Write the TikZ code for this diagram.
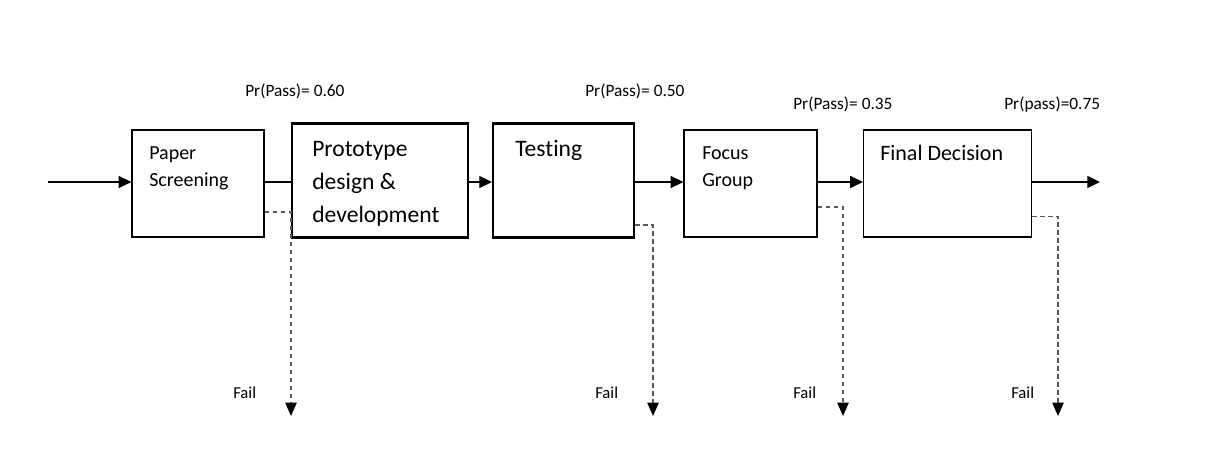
\documentclass[tikz,border=0pt]{standalone}
\usepackage{fontspec}
\setmainfont{Carlito}[Ligatures=NoCommon]
\usetikzlibrary{arrows.meta}
\tikzset{
  thinbox/.style={draw,line width=0.9pt,inner sep=0pt},
  thickbox/.style={draw,line width=1.6pt,inner sep=0pt},
  boxtext/.style={anchor=north west,inner sep=0pt,align=left},
  flow/.style={line width=1pt,-{Triangle[length=9.5pt,width=9pt]}},
  failline/.style={line width=1.1pt,draw=black!65,dash pattern=on 3.5pt off 2.5pt,
    -{Triangle[length=10pt,width=8.5pt,color=black]}},
  passlabel/.style={font=\fontsize{13}{15}\selectfont,anchor=base west,inner sep=0pt},
  faillabel/.style={font=\fontsize{12.5}{14}\selectfont,anchor=base west,inner sep=0pt}
}
\begin{document}
\begin{tikzpicture}[x=0.75pt,y=-0.75pt]
\useasboundingbox (0,0) rectangle (1220,466);

% stages
\node[thinbox,minimum width=99pt,minimum height=80.25pt] (screen) at (198,183.5) {};
\node[thickbox,minimum width=132pt,minimum height=85.5pt] (proto) at (380,180.5) {};
\node[thickbox,minimum width=105.75pt,minimum height=85.5pt] (test) at (563.5,180.5) {};
\node[thinbox,minimum width=99.75pt,minimum height=80.25pt] (focus) at (750.5,183.5) {};
\node[thinbox,minimum width=126pt,minimum height=80.25pt] (final) at (947.5,183.5) {};

% texts in the boxes
\node[boxtext,font=\fontsize{15}{20.5}\selectfont] (screen-t) at (149,146) {Paper\\Screening};
\node[boxtext,font=\fontsize{17.7}{24.6}\selectfont] (proto-t) at (312,141) {Prototype\\design \&\\development};
\node[boxtext,font=\fontsize{17.7}{24.6}\selectfont] (test-t) at (515,140) {Testing};
\node[boxtext,font=\fontsize{15}{20.5}\selectfont] (focus-t) at (702,146) {Focus\\Group};
\node[boxtext,font=\fontsize{16.5}{20}\selectfont] (final-t) at (880,145) {Final Decision};

% main flow
\coordinate (in) at (48,182);
\coordinate (out) at (1100,182);
\draw[flow] (in) -- (in -| screen.west);
\draw[line width=1pt] (screen.east |- in) -- (in -| proto.west);
\draw[flow] (proto.east |- in) -- (in -| test.west);
\draw[flow] (test.east |- in) -- (in -| focus.west);
\draw[flow] (focus.east |- in) -- (in -| final.west);
\draw[flow] (final.east |- in) -- (out);

% fail branches
\coordinate (f1) at (291,416);
\coordinate (f3) at (653,416);
\coordinate (f4) at (843,416);
\coordinate (f5) at (1058,416);
\draw[failline] ([yshift=-21.4pt]screen.east) -| (f1);
\draw[failline] ([yshift=-33.4pt]test.east) -| (f3);
\draw[failline] ([yshift=-17.6pt]focus.east) -| (f4);
\draw[failline] ([yshift=-24.6pt]final.east) -| (f5);

% labels
\node[passlabel] (p1) at (245,97) {Pr(Pass)= 0.60};
\node[passlabel] (p3) at (585,97) {Pr(Pass)= 0.50};
\node[passlabel] (p4) at (793,110) {Pr(Pass)= 0.35};
\node[passlabel] (p5) at (1004,110) {Pr(pass)=0.75};
\node[faillabel] (x1) at (233,398) {Fail};
\node[faillabel] (x3) at (595,398) {Fail};
\node[faillabel] (x4) at (793,398) {Fail};
\node[faillabel] (x5) at (1011,398) {Fail};
\end{tikzpicture}
\end{document}
